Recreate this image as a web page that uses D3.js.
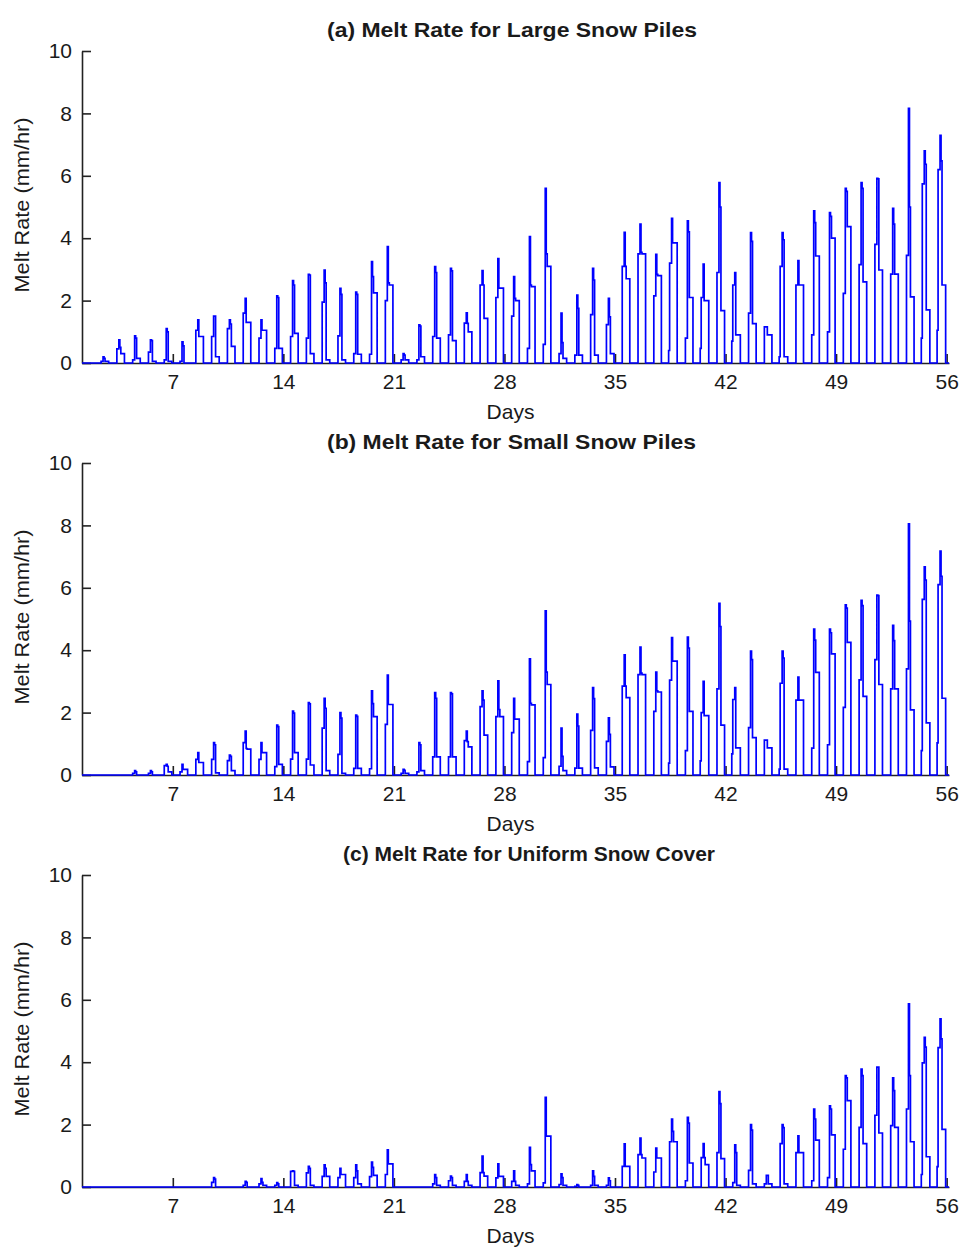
<!DOCTYPE html>
<html>
<head>
<meta charset="utf-8">
<script src="https://cdn.jsdelivr.net/npm/d3@7"></script>
<style>
  body { margin: 0; background: #fff; }
  text { font-family: "Liberation Sans", Arial, sans-serif; fill: #1a1a1a; }
</style>
</head>
<body>
<div id="chart"></div>
<script>
// each row: [day, early step, rising step, peak, after peak, falling step]  (mm/hr)
var largePiles = [
  [2, 0, .05, .2, .15, .05], [3, 0, .45, .74, .5, .3], [4, 0, .1, .87, .8, .15],
  [5, 0, .35, .74, .72, .05], [6, 0, .1, 1.1, 1.0, .05], [7, 0, .05, .68, .55, 0],
  [8, 0, 1.05, 1.38, .85, .85], [9, 0, .85, 1.5, 1.5, .2], [10, 0, 1.1, 1.38, 1.25, .53],
  [11, 0, 1.6, 2.07, 1.3, 1.3], [12, 0, .8, 1.38, 1.05, 1.05], [13, 0, .47, 2.15, 2.1, .47],
  [14, 0, .85, 2.64, 2.5, .95], [15, 0, .8, 2.84, 2.82, .3], [16, 0, 1.95, 2.98, 2.57, .1],
  [17, 0, .87, 2.39, 2.2, .1], [18, 0, .3, 2.27, 2.2, .28], [19, 0, .28, 3.25, 2.77, 2.25],
  [20, 0, 2.0, 3.73, 2.57, 2.5], [21, 0, .1, .3, .25, .1], [22, 0, .1, 1.22, 1.18, .2],
  [23, 0, .85, 3.09, 2.9, .8], [24, 0, .9, 3.03, 2.95, .72], [25, 0, 1.28, 1.61, 1.27, 1.0],
  [26, 0, 2.5, 2.96, 2.5, 1.43], [27, 0, 2.1, 3.35, 2.4, 2.4], [28, 0, 1.5, 2.77, 2.07, 2.0],
  [29, 0, .47, 4.05, 2.5, 2.45], [30, 0, .6, 5.6, 3.5, 3.1], [31, 0, .3, 1.6, .65, .15],
  [32, 0, .25, 2.18, 1.75, .25], [33, 0, 1.55, 3.03, 2.66, .25], [34, 0, 1.23, 2.07, 1.48, .3],
  [35, 0, 3.1, 4.19, 3.1, 2.7], [36, 0, 3.5, 4.45, 3.55, 3.5], [37, 0, 2.15, 3.48, 2.84, 2.8],
  [38, .4, 3.2, 4.64, 3.85, 3.85], [39, 0, .8, 4.56, 4.2, 2.1], [40, .47, 2.1, 3.17, 2.0, 2.0],
  [41, 0, 2.9, 5.78, 5.0, 1.68], [42, .7, 2.5, 2.9, .9, .9], [43, 0, 1.6, 4.18, 3.9, 1.26],
  [44, 0, 1.16, 1.16, .9, .9], [45, .2, 3.1, 4.18, 3.95, .2], [46, 0, 2.5, 3.28, 2.5, 2.5],
  [47, 0, .9, 4.88, 4.5, 3.43], [48, 0, 1.0, 4.82, 4.7, 4.0], [49, 0, 2.23, 5.6, 5.5, 4.37],
  [50, 0, 3.15, 5.78, 5.6, 2.6], [51, 0, 3.8, 5.92, 5.9, 2.98], [52, 0, 2.85, 4.96, 4.45, 2.85],
  [53, 0, 3.45, 8.16, 5.0, 2.12], [54, .8, 5.74, 6.8, 6.37, 1.7], [55, 1.05, 6.2, 7.3, 6.48, 2.5]
];

var smallPiles = [
  [4, 0, .05, .14, .1, 0], [5, 0, .05, .14, .1, 0], [6, 0, .3, .34, .28, .1],
  [7, 0, .1, .34, .18, .18], [8, 0, .5, .72, .4, .4], [9, 0, .5, 1.04, .97, .07],
  [10, 0, .46, .64, .6, .14], [11, 0, 1.04, 1.41, .85, .83], [12, 0, .5, 1.04, .72, .72],
  [13, 0, .27, 1.6, 1.55, .34], [14, 0, .51, 2.05, 1.98, .72], [15, 0, .51, 2.32, 2.28, .32],
  [16, 0, 1.5, 2.46, 2.14, .14], [17, 0, .66, 2.0, 1.82, .05], [18, 0, .21, 1.92, 1.88, .21],
  [19, 0, .2, 2.7, 2.29, 1.87], [20, 0, 1.62, 3.2, 2.26, 2.26], [21, 0, .05, .18, .15, .05],
  [22, 0, .1, 1.04, .97, .14], [23, 0, .58, 2.64, 2.46, .58], [24, 0, .58, 2.64, 2.6, .58],
  [25, 0, 1.1, 1.41, 1.07, .9], [26, 0, 2.19, 2.7, 2.4, 1.28], [27, 0, 1.87, 3.02, 2.1, 1.87],
  [28, 0, 1.36, 2.46, 1.79, 1.79], [29, 0, .43, 3.72, 2.3, 2.25], [30, 0, .56, 5.26, 3.3, 2.9],
  [31, 0, .28, 1.5, .6, .14], [32, 0, .22, 1.95, 1.57, .22], [33, 0, 1.43, 2.8, 2.45, .23],
  [34, 0, 1.08, 1.83, 1.3, .26], [35, 0, 2.85, 3.85, 2.85, 2.48], [36, 0, 3.22, 4.1, 3.27, 3.22],
  [37, 0, 2.04, 3.3, 2.7, 2.66], [38, .38, 3.04, 4.4, 3.65, 3.65], [39, 0, .78, 4.42, 4.07, 2.04],
  [40, .45, 2.0, 3.0, 1.9, 1.9], [41, 0, 2.76, 5.5, 4.76, 1.6], [42, .68, 2.42, 2.8, .87, .87],
  [43, 0, 1.52, 3.97, 3.7, 1.2], [44, 0, 1.12, 1.12, .87, .87], [45, .19, 2.94, 3.97, 3.75, .19],
  [46, 0, 2.4, 3.14, 2.4, 2.4], [47, 0, .86, 4.68, 4.32, 3.29], [48, 0, .97, 4.68, 4.56, 3.88],
  [49, 0, 2.17, 5.45, 5.35, 4.25], [50, 0, 3.05, 5.6, 5.43, 2.52], [51, 0, 3.7, 5.77, 5.75, 2.9],
  [52, 0, 2.76, 4.8, 4.31, 2.76], [53, 0, 3.4, 8.05, 4.93, 2.09], [54, .78, 5.63, 6.67, 6.25, 1.67],
  [55, 1.03, 6.1, 7.18, 6.37, 2.46]
];

var uniformCover = [
  [9, 0, .15, .3, .25, 0], [11, 0, .05, .18, .15, 0], [12, 0, .1, .27, .15, .05],
  [13, 0, .05, .14, .1, 0], [14, 0, .5, .52, .5, .05], [15, 0, .45, .66, .6, .05],
  [16, 0, .34, .71, .6, .34], [17, 0, .3, .6, .4, .4], [18, 0, .3, .71, .52, .1],
  [19, 0, .33, .8, .63, .37], [20, 0, .4, 1.19, .74, .74], [23, 0, .1, .4, .3, .05],
  [24, 0, .2, .35, .3, .05], [25, 0, .18, .4, .18, .05], [26, 0, .46, .99, .46, .35],
  [27, 0, .29, .74, .34, .34], [28, 0, .18, .52, .18, .05], [29, 0, .1, 1.27, .72, .52],
  [30, 0, .13, 2.87, 1.63, 1.63], [31, 0, .08, .42, .3, .05], [32, 0, .02, .08, .05, 0],
  [33, 0, .05, .52, .34, .05], [34, 0, .05, .29, .2, 0], [35, 0, .66, 1.38, .66, .66],
  [36, 0, 1.04, 1.57, 1.04, .93], [37, 0, .48, 1.25, .93, .93], [38, 0, 1.45, 2.18, 1.78, 1.45],
  [39, 0, .2, 2.23, 2.05, .77], [40, 0, .94, 1.39, .94, .72], [41, 0, 1.1, 3.06, 2.67, .91],
  [42, 0, .14, 1.35, 1.1, .05], [43, 0, .53, 2.0, 1.82, .1], [44, 0, .1, .37, .37, .1],
  [45, 0, 1.39, 2.0, 1.9, .1], [46, 0, 1.1, 1.64, 1.1, 1.1], [47, 0, .2, 2.5, 2.18, 1.5],
  [48, 0, .3, 2.6, 2.5, 1.67], [49, 0, 1.21, 3.57, 3.5, 2.77], [50, 0, 1.91, 3.78, 3.57, 1.39],
  [51, 0, 2.3, 3.84, 3.84, 1.73], [52, 0, 1.97, 3.5, 3.09, 1.91], [53, 0, 2.5, 5.87, 3.57, 1.45],
  [54, .4, 3.98, 4.8, 4.48, .97], [55, .65, 4.47, 5.39, 4.75, 1.85]
];

var panelTitles = ["(a) Melt Rate for Large Snow Piles", "(b) Melt Rate for Small Snow Piles", "(c) Melt Rate for Uniform Snow Cover"];
var dayTicks = [7, 14, 21, 28, 35, 42, 49, 56];
var rateTicks = [0, 2, 4, 6, 8, 10];
// hour of day at which each stored value starts
var stepHours = [9.5, 11, 14, 15.5, 17, 22.5];

var width = 964, height = 1247;
var left = 82, right = 949, plotH = 312;
var panelTops = [51, 463, 875];
var titleBoxes = [[327, 697], [327, 696], [343, 715]];

var svg = d3.select("#chart").append("svg")
    .attr("width", width)
    .attr("height", height);

var x = d3.scaleLinear().domain([1.25, 56.15]).range([left, right]);

function drawPanel(rows, title, box, top) {
    var y = d3.scaleLinear().domain([0, 10]).range([top + plotH, top]);
    var g = svg.append("g");

    // axes first, the melt line is drawn over them
    var yAxis = g.append("g")
        .attr("transform", "translate(" + left + ",0)")
        .call(d3.axisLeft(y).tickValues(rateTicks).tickSizeInner(-9).tickSizeOuter(0).tickPadding(10));
    var xAxis = g.append("g")
        .attr("transform", "translate(0," + (top + plotH) + ")")
        .call(d3.axisBottom(x).tickValues(dayTicks).tickSizeInner(-9).tickSizeOuter(0).tickPadding(11));

    [yAxis, xAxis].forEach(function (ax) {
        ax.select(".domain").attr("stroke", "#222").attr("stroke-width", 1.6);
        ax.selectAll(".tick line").attr("stroke", "#222").attr("stroke-width", 1.6);
        ax.selectAll("text").style("font-size", "21px").attr("fill", "#1a1a1a");
    });

    // build hourly step series
    var pts = [[x.domain()[0], 0]];
    rows.forEach(function (r) {
        for (var k = 0; k < stepHours.length; k++) {
            var v = k < 5 ? r[k + 1] : 0;
            pts.push([r[0] + stepHours[k] / 24, v]);
        }
    });
    pts.push([x.domain()[1], 0]);

    var line = d3.line()
        .x(function (d) { return x(d[0]); })
        .y(function (d) { return y(d[1]); })
        .curve(d3.curveStepAfter);

    g.append("path")
        .datum(pts)
        .attr("d", line)
        .attr("fill", "none")
        .attr("stroke", "#0000ff")
        .attr("stroke-width", 1.7);

    g.append("text")
        .attr("x", box[0])
        .attr("y", top - 21)
        .attr("dy", "0.35em")
        .attr("textLength", box[1] - box[0])
        .attr("lengthAdjust", "spacingAndGlyphs")
        .style("font-size", "21px")
        .style("font-weight", "bold")
        .text(title);

    g.append("text")
        .attr("x", (left + right) / 2 - 5)
        .attr("y", top + plotH + 49)
        .attr("text-anchor", "middle")
        .attr("dy", "0.35em")
        .style("font-size", "21px")
        .text("Days");

    g.append("text")
        .attr("transform", "translate(22," + (top + plotH / 2 - 2) + ") rotate(-90)")
        .attr("text-anchor", "middle")
        .attr("dy", "0.35em")
        .attr("textLength", 175)
        .attr("lengthAdjust", "spacingAndGlyphs")
        .style("font-size", "21px")
        .text("Melt Rate (mm/hr)");
}

drawPanel(largePiles, panelTitles[0], titleBoxes[0], panelTops[0]);
drawPanel(smallPiles, panelTitles[1], titleBoxes[1], panelTops[1]);
drawPanel(uniformCover, panelTitles[2], titleBoxes[2], panelTops[2]);
</script>
</body>
</html>
